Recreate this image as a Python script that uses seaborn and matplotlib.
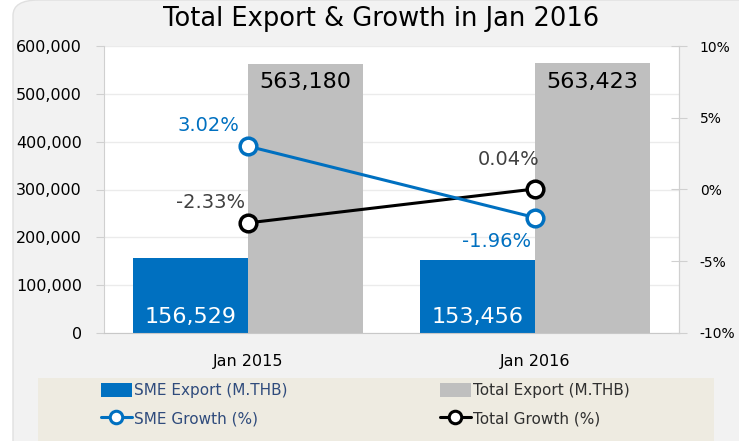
import matplotlib
matplotlib.use("Agg")
import matplotlib.pyplot as plt
from matplotlib.patches import FancyBboxPatch, Rectangle, Patch
from matplotlib.lines import Line2D
from matplotlib.ticker import FuncFormatter, MultipleLocator
import seaborn as sns
import pandas as pd

# ---- data ----
categories = ["Jan 2015", "Jan 2016"]
sme_export = [156529, 153456]
total_export = [563180, 563423]
sme_growth = [3.02, -1.96]
total_growth = [-2.33, 0.04]
bar_series = ["SME Export (M.THB)", "Total Export (M.THB)"]
line_series = ["SME Growth (%)", "Total Growth (%)"]
title = "Total Export & Growth in Jan 2016"

# ---- style ----
BLUE = "#0070C0"
GRAY = "#BFBFBF"
sns.set_style("white")
plt.rcParams["font.family"] = ["DejaVu Sans"]

df = pd.DataFrame({
    "Month": categories * 2,
    "Value": sme_export + total_export,
    "Series": [bar_series[0]] * len(categories) + [bar_series[1]] * len(categories),
})

fig = plt.figure(figsize=(7.39, 4.41), dpi=100)
fig.patch.set_facecolor("white")
bg = FancyBboxPatch((13 / 739, -0.05), 1.05, 1.05,
                    boxstyle="round,pad=0,rounding_size=0.035",
                    transform=fig.transFigure, fc="#F2F2F2", ec="#E0E0E0",
                    lw=1, zorder=-10)
fig.patches.append(bg)
# legend band
fig.patches.append(Rectangle((38 / 739, 0), (714 - 38) / 739, (441 - 378) / 441,
                             transform=fig.transFigure, fc="#EEEBE1", ec="none",
                             zorder=-5))

ax = fig.add_axes([104 / 739, 1 - 333 / 441, (679 - 104) / 739, (333 - 46) / 441])
ax.set_facecolor("white")

sns.barplot(data=df, x="Month", y="Value", hue="Series",
            palette=[BLUE, GRAY], width=0.8, saturation=1, ax=ax,
            legend=False, linewidth=0, zorder=2)
ax.set_ylim(0, 600000)
ax.set_xlim(-0.5, len(categories) - 0.5)
ax.yaxis.set_major_locator(MultipleLocator(100000))
ax.yaxis.set_major_formatter(FuncFormatter(lambda v, p: f"{int(v):,}"))
ax.grid(axis="y", color="#EBEBEB", lw=1, zorder=0)
ax.set_axisbelow(True)
ax.set_xlabel("")
ax.set_ylabel("")
ax.spines["top"].set_visible(False)
ax.spines["left"].set_color("#D0D0D0")
ax.spines["right"].set_color("#D0D0D0")
ax.spines["bottom"].set_color("#C8C8C8")
ax.tick_params(axis="y", labelsize=11.5, colors="#D0D0D0", labelcolor="black",
               length=6, pad=10)
ax.tick_params(axis="x", labelsize=11.5, colors="#C8C8C8", labelcolor="black",
               length=8, pad=7)

# bar labels
sme_bars = ax.containers[0]
tot_bars = ax.containers[1]
for p in sme_bars:
    ax.annotate(f"{int(p.get_height()):,}", (p.get_x() + p.get_width() / 2, 0),
                xytext=(0, 4), textcoords="offset points", ha="center",
                va="bottom", color="white", fontsize=16, zorder=5)
for p in tot_bars:
    ax.annotate(f"{int(p.get_height()):,}",
                (p.get_x() + p.get_width() / 2, p.get_height()),
                xytext=(0, -6), textcoords="offset points", ha="center",
                va="top", color="black", fontsize=16, zorder=5)

# growth lines on secondary axis
ax2 = ax.twinx()
x_pos = list(range(len(categories)))
sns.lineplot(x=x_pos, y=total_growth, ax=ax2, color="black", lw=2.2,
             marker="o", markersize=12, markerfacecolor="white",
             markeredgecolor="black", markeredgewidth=2.5, zorder=4)
sns.lineplot(x=x_pos, y=sme_growth, ax=ax2, color=BLUE, lw=2.2,
             marker="o", markersize=12, markerfacecolor="white",
             markeredgecolor=BLUE, markeredgewidth=2.5, zorder=5)
ax2.set_ylim(-10, 10)
ax2.yaxis.set_major_locator(MultipleLocator(5))
ax2.yaxis.set_major_formatter(FuncFormatter(lambda v, p: f"{int(round(v))}%"))
ax2.tick_params(axis="y", labelsize=10, colors="#D0D0D0", labelcolor="black",
                direction="inout", length=12, pad=9)
for s in ["top", "left", "bottom"]:
    ax2.spines[s].set_visible(False)
ax2.spines["right"].set_color("#D0D0D0")
ax2.set_xlim(ax.get_xlim())

# growth labels (offsets in points)
sme_offsets = [(-6, 8), (-3, -10)]
sme_va = ["bottom", "top"]
tot_offsets = [(-2, 8), (3, 14)]
for i, v in enumerate(sme_growth):
    ax2.annotate(f"{v:.2f}%", (x_pos[i], v), xytext=sme_offsets[i],
                 textcoords="offset points", ha="right", va=sme_va[i],
                 color=BLUE, fontsize=14, zorder=6)
for i, v in enumerate(total_growth):
    ax2.annotate(f"{v:.2f}%", (x_pos[i], v), xytext=tot_offsets[i],
                 textcoords="offset points", ha="right", va="bottom",
                 color="#404040", fontsize=14, zorder=6)

# title
fig.text(381 / 739, 1 - 19 / 441, title, ha="center", va="center",
         fontsize=18.5, color="black")

# legends
h_sme = [Patch(facecolor=BLUE, edgecolor="none"),
         Line2D([0], [0], color=BLUE, lw=2.2, marker="o", markersize=9,
                markerfacecolor="white", markeredgecolor=BLUE, markeredgewidth=2.2)]
h_tot = [Patch(facecolor=GRAY, edgecolor="none"),
         Line2D([0], [0], color="black", lw=2.2, marker="o", markersize=9,
                markerfacecolor="white", markeredgecolor="black", markeredgewidth=2.2)]
leg_kw = dict(loc="upper left", frameon=False, fontsize=11, handlelength=2.0,
              handleheight=1.0, handletextpad=0.15, labelspacing=0.85,
              borderaxespad=0, borderpad=0)
l1 = fig.legend(h_sme, [bar_series[0], line_series[0]],
                bbox_to_anchor=(101 / 739, 1 - 383 / 441), **leg_kw)
for t in l1.get_texts():
    t.set_color("#2F4B7C")
l2 = fig.legend(h_tot, [bar_series[1], line_series[1]],
                bbox_to_anchor=(440 / 739, 1 - 383 / 441), **leg_kw)
for t in l2.get_texts():
    t.set_color("#303030")

fig.savefig("out.png", dpi=100)
